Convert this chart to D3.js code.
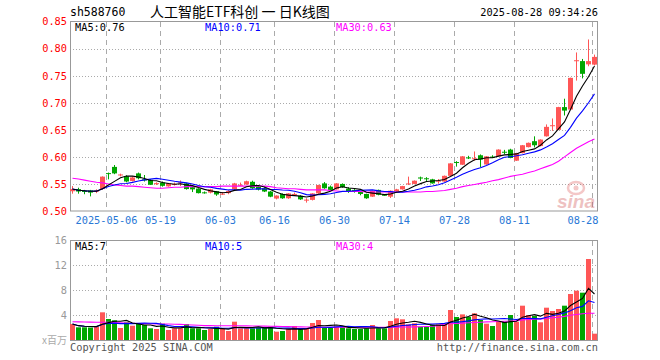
<!DOCTYPE html>
<html>
<head>
<meta charset="utf-8">
<script src="https://cdn.jsdelivr.net/npm/d3@7/dist/d3.min.js"></script>
<style>
  body { margin: 0; background: #fff; }
  svg { display: block; }
  text { font-family: "DejaVu Sans Mono", monospace; }
</style>
</head>
<body>
<svg width="660" height="360"></svg>
<script>
// date ticks (candle index -> label)
const tickIdx = [6, 15, 25, 34, 44, 54, 64, 74, 87];
const tickLabels = ["2025-05-06", "05-19", "06-03", "06-16", "06-30", "07-14", "07-28", "08-11", "08-28"];

// daily candles, 2025-04-23 .. 2025-08-28
const opens = [0.5365,0.5405,0.5370,0.5380,0.5365,0.5405,0.5700,0.5815,0.5665,0.5640,
  0.5555,0.5695,0.5585,0.5575,0.5510,0.5525,0.5455,0.5490,0.5525,0.5510,
  0.5440,0.5415,0.5345,0.5340,0.5365,0.5310,0.5330,0.5400,0.5475,0.5490,
  0.5540,0.5450,0.5420,0.5360,0.5230,0.5315,0.5235,0.5300,0.5280,0.5205,
  0.5205,0.5325,0.5510,0.5450,0.5400,0.5500,0.5415,0.5390,0.5360,0.5315,
  0.5265,0.5390,0.5300,0.5265,0.5360,0.5400,0.5500,0.5500,0.5620,0.5605,
  0.5585,0.5550,0.5545,0.5650,0.5905,0.5855,0.5990,0.5960,0.6030,0.5860,
  0.6005,0.6010,0.6095,0.6135,0.5930,0.6070,0.6180,0.6290,0.6200,0.6380,
  0.6580,0.6500,0.6920,0.6875,0.7768,0.7770,0.7710,0.7705];
const closes = [0.5405,0.5360,0.5355,0.5340,0.5375,0.5635,0.5690,0.5695,0.5675,0.5545,
  0.5620,0.5605,0.5565,0.5485,0.5515,0.5465,0.5510,0.5500,0.5530,0.5405,
  0.5400,0.5330,0.5335,0.5400,0.5305,0.5320,0.5370,0.5510,0.5485,0.5550,
  0.5420,0.5395,0.5360,0.5265,0.5285,0.5235,0.5325,0.5315,0.5215,0.5210,
  0.5325,0.5480,0.5420,0.5390,0.5510,0.5440,0.5360,0.5375,0.5315,0.5235,
  0.5370,0.5300,0.5295,0.5375,0.5400,0.5460,0.5510,0.5560,0.5600,0.5595,
  0.5510,0.5560,0.5650,0.5880,0.5895,0.6010,0.5980,0.5975,0.5950,0.6010,
  0.6000,0.6135,0.6090,0.5980,0.6070,0.6215,0.6260,0.6215,0.6320,0.6555,
  0.6585,0.6920,0.6855,0.7460,0.7786,0.7535,0.7770,0.7848];
const highs = [0.5460,0.5430,0.5390,0.5390,0.5400,0.5640,0.5710,0.5850,0.5690,0.5660,
  0.5640,0.5710,0.5665,0.5590,0.5530,0.5545,0.5520,0.5525,0.5565,0.5520,
  0.5465,0.5420,0.5360,0.5410,0.5370,0.5350,0.5385,0.5520,0.5525,0.5560,
  0.5560,0.5470,0.5440,0.5370,0.5290,0.5325,0.5330,0.5340,0.5290,0.5235,
  0.5330,0.5485,0.5535,0.5470,0.5515,0.5510,0.5440,0.5405,0.5365,0.5320,
  0.5375,0.5395,0.5315,0.5380,0.5410,0.5465,0.5635,0.5565,0.5635,0.5625,
  0.5595,0.5590,0.5655,0.5885,0.5920,0.6015,0.6020,0.6100,0.6045,0.6015,
  0.6030,0.6140,0.6130,0.6150,0.6075,0.6220,0.6265,0.6380,0.6325,0.6600,
  0.6710,0.6925,0.7075,0.7465,0.7930,0.7810,0.8170,0.7890];
const lows = [0.5320,0.5320,0.5310,0.5270,0.5330,0.5390,0.5585,0.5680,0.5640,0.5530,
  0.5545,0.5585,0.5545,0.5480,0.5480,0.5450,0.5450,0.5470,0.5460,0.5395,
  0.5350,0.5325,0.5320,0.5325,0.5280,0.5295,0.5310,0.5390,0.5460,0.5485,
  0.5410,0.5380,0.5350,0.5255,0.5215,0.5225,0.5225,0.5290,0.5205,0.5155,
  0.5195,0.5320,0.5410,0.5380,0.5395,0.5430,0.5335,0.5340,0.5290,0.5225,
  0.5260,0.5290,0.5285,0.5240,0.5350,0.5395,0.5480,0.5495,0.5555,0.5555,
  0.5505,0.5505,0.5540,0.5645,0.5820,0.5850,0.5960,0.5930,0.5810,0.5855,
  0.5980,0.6005,0.6050,0.5975,0.5925,0.6065,0.6175,0.6175,0.6195,0.6375,
  0.6480,0.6495,0.6765,0.6870,0.7410,0.7450,0.7675,0.7690];
// volume, x 1,000,000
const volumes = [2.56,2.03,2.03,2.00,2.10,4.43,3.36,3.15,1.92,2.83,
  2.29,2.56,2.40,1.87,1.76,2.61,1.60,1.87,1.87,2.56,
  1.87,1.87,1.60,1.76,2.13,1.76,1.44,2.93,1.87,1.87,
  1.87,2.03,2.03,2.13,1.33,1.44,1.76,2.24,1.71,1.76,
  2.72,3.20,2.00,2.00,2.13,2.13,1.87,1.76,1.76,1.87,
  2.40,1.87,1.87,3.04,3.47,3.31,2.50,2.67,2.13,2.13,
  2.40,2.50,2.50,4.80,3.68,4.10,3.68,4.27,3.20,2.61,
  2.24,2.93,2.93,4.00,2.93,5.49,4.00,3.84,2.83,5.17,
  4.64,4.96,5.49,7.36,7.89,7.57,12.96,1.01];
// 30-day averages as drawn (they reach back before the window)
const ma30 = [0.5605,0.559,0.557,0.555,0.553,0.552,0.550,0.548,0.547,0.546,
  0.546,0.545,0.544,0.543,0.542,0.542,0.543,0.544,0.544,0.545,
  0.545,0.545,0.545,0.545,0.545,0.546,0.546,0.546,0.546,0.546,
  0.546,0.546,0.546,0.545,0.543,0.542,0.541,0.541,0.540,0.539,
  0.539,0.539,0.539,0.538,0.537,0.536,0.536,0.536,0.536,0.535,
  0.535,0.535,0.535,0.535,0.535,0.535,0.535,0.535,0.535,0.536,
  0.536,0.537,0.538,0.540,0.542,0.545,0.547,0.549,0.551,0.553,
  0.556,0.558,0.561,0.564,0.566,0.568,0.571,0.574,0.578,0.582,
  0.586,0.592,0.600,0.608,0.616,0.622,0.628,0.633];
const volMa30 = [2.93,2.90,2.88,2.86,2.85,2.85,2.83,2.80,2.75,2.70,
  2.67,2.65,2.62,2.60,2.58,2.56,2.55,2.53,2.50,2.45,
  2.40,2.35,2.30,2.30,2.29,2.28,2.28,2.27,2.27,2.26,
  2.25,2.24,2.22,2.20,2.18,2.16,2.14,2.12,2.10,2.08,
  2.06,2.05,2.04,2.03,2.03,2.03,2.03,2.03,2.03,2.03,
  2.03,2.03,2.04,2.05,2.06,2.07,2.08,2.10,2.12,2.15,
  2.20,2.30,2.55,2.60,2.64,2.70,2.75,2.80,2.85,2.90,
  2.92,2.95,3.00,3.05,3.10,3.20,3.28,3.34,3.38,3.45,
  3.55,3.65,3.78,3.95,4.08,4.20,4.27,4.27];

const priceTicks = [0.50, 0.55, 0.60, 0.65, 0.70, 0.75, 0.80, 0.85];
const volTicks = [4, 8, 12, 16];

const RED = "#ff5656", GREEN = "#00a600";
const L = 70, R = 597;

function movAvg(arr, n) {
  return arr.map((d, i) => {
    const s = arr.slice(Math.max(0, i - n + 1), i + 1);
    return d3.mean(s);
  });
}
const ma5 = movAvg(closes, 5), ma10 = movAvg(closes, 10);
const vma5 = movAvg(volumes, 5), vma10 = movAvg(volumes, 10);

const idx = d3.range(closes.length);
const x = d3.scaleLinear().domain([0, closes.length - 1]).range([72, 594]);
const y = d3.scaleLinear().domain([0.5, 0.85]).range([211, 21.6]);
const yv = d3.scaleLinear().domain([0, 16]).range([340, 240]);

const svg = d3.select("svg");
svg.append("rect").attr("width", 660).attr("height", 360).attr("fill", "#fff");

// header
svg.append("text").attr("x", 70).attr("y", 16).attr("font-size", 11.5).attr("fill", "#000").text("sh588760");
svg.append("text").attr("x", 150).attr("y", 17).attr("font-size", 14)
  .style("font-family", "'Noto Sans CJK SC', sans-serif").attr("fill", "#000")
  .text("人工智能ETF科创 一 日K线图");
svg.append("text").attr("x", 598).attr("y", 16).attr("font-size", 10.3).attr("text-anchor", "end")
  .attr("fill", "#000").text("2025-08-28 09:34:26");

// grids
function hGrid(ticks, sc) {
  svg.append("g").selectAll("line").data(ticks).join("line")
    .attr("x1", L).attr("x2", R)
    .attr("y1", d => Math.round(sc(d)) + 0.5).attr("y2", d => Math.round(sc(d)) + 0.5)
    .attr("stroke", "#aaa").attr("stroke-dasharray", "1,2");
}
hGrid(priceTicks.slice(1, -1), y);
hGrid(volTicks.slice(0, -1), yv);

function vGrid(y1, y2) {
  svg.append("g").selectAll("line").data(tickIdx).join("line")
    .attr("x1", d => x(d) - 1.5).attr("x2", d => x(d) - 1.5)
    .attr("y1", y1).attr("y2", y2)
    .attr("stroke", "#aaa").attr("stroke-dasharray", "5,4");
}
vGrid(22, 211);
vGrid(241, 340);

// frames
svg.append("rect").attr("x", L + 0.5).attr("y", 21.5).attr("width", R - L).attr("height", 189.5)
  .attr("fill", "none").attr("stroke", "#999");
svg.append("rect").attr("x", L + 0.5).attr("y", 240.5).attr("width", R - L).attr("height", 100)
  .attr("fill", "none").attr("stroke", "#999");

// sina watermark
const wm = svg.append("g").attr("opacity", 0.35);
wm.append("ellipse").attr("cx", 576).attr("cy", 188).attr("rx", 8).attr("ry", 6)
  .attr("fill", "none").attr("stroke", "#e06060").attr("stroke-width", 2.5);
wm.append("circle").attr("cx", 576).attr("cy", 188).attr("r", 2.5).attr("fill", "#e06060");
wm.append("text").attr("x", 557).attr("y", 208).attr("font-size", 19).attr("font-weight", "bold")
  .attr("font-style", "italic").style("font-family", "'Liberation Sans', sans-serif")
  .attr("fill", "#d05050").text("sina");

// price axis
const ay = svg.append("g").attr("transform", `translate(${L},0)`)
  .call(d3.axisLeft(y).tickValues(priceTicks).tickFormat(d3.format(".2f")).tickSize(0).tickPadding(3));
ay.select(".domain").remove();
ay.selectAll("text").attr("fill", "#f00").attr("font-size", 10.3).style("font-family", "'DejaVu Sans Mono', monospace");

// volume axis
const av = svg.append("g").attr("transform", `translate(${L},0)`)
  .call(d3.axisLeft(yv).tickValues(volTicks).tickSize(0).tickPadding(3));
av.select(".domain").remove();
av.selectAll("text").attr("fill", "#999").attr("font-size", 10.3).style("font-family", "'DejaVu Sans Mono', monospace");
svg.append("text").attr("x", 67).attr("y", 344).attr("text-anchor", "end").attr("font-size", 10)
  .style("font-family", "'Noto Sans CJK SC', sans-serif").attr("fill", "#aaa").text("x百万");

// date axis
const ax = svg.append("g").attr("transform", "translate(0,211)")
  .call(d3.axisBottom(d3.scaleLinear().domain(x.domain()).range(x.range().map(v => v - 2)))
    .tickValues(tickIdx).tickFormat((d, i) => tickLabels[i]).tickSize(0).tickPadding(6));
ax.select(".domain").remove();
ax.selectAll("text").attr("fill", "#2a78d6").attr("font-size", 10.3).style("font-family", "'DejaVu Sans Mono', monospace");
ax.selectAll(".tick").filter((d, i) => i === tickIdx.length - 1).select("text")
  .attr("text-anchor", "end").attr("dx", R + 1 - (x(tickIdx[tickIdx.length - 1]) - 2));

// candles
const up = i => closes[i] >= opens[i];
const cg = svg.append("g");
cg.selectAll("line").data(idx).join("line")
  .attr("x1", i => x(i) + 0.5).attr("x2", i => x(i) + 0.5)
  .attr("y1", i => y(highs[i])).attr("y2", i => y(lows[i]))
  .attr("stroke", i => up(i) ? RED : GREEN);
cg.selectAll("rect").data(idx).join("rect")
  .attr("x", i => x(i) - 2).attr("width", 5)
  .attr("y", i => y(Math.max(opens[i], closes[i])))
  .attr("height", i => Math.max(1, Math.abs(y(opens[i]) - y(closes[i]))))
  .attr("fill", i => up(i) ? RED : GREEN);

// volume bars
svg.append("g").selectAll("rect").data(idx).join("rect")
  .attr("x", i => x(i) - 2).attr("width", 5)
  .attr("y", i => yv(volumes[i])).attr("height", i => yv(0) - yv(volumes[i]))
  .attr("fill", i => up(i) ? RED : GREEN);

// MA lines
function maLine(vals, sc, color) {
  svg.append("path").datum(vals)
    .attr("d", d3.line().x((d, i) => x(i) + 0.5).y(d => sc(d)))
    .attr("fill", "none").attr("stroke", color).attr("stroke-width", 1.1);
}
maLine(ma30, y, "#ff00ff");
maLine(ma10, y, "#0000ff");
maLine(ma5, y, "#000");
maLine(volMa30, yv, "#ff00ff");
maLine(vma10, yv, "#0000ff");
maLine(vma5, yv, "#000");

// MA legends
function legend(yy, items) {
  svg.append("g").selectAll("text").data(items).join("text")
    .attr("x", d => d[0]).attr("y", yy).attr("font-size", 10.3)
    .attr("fill", d => d[2]).text(d => d[1]);
}
legend(31, [[75, "MA5:0.76", "#000"], [205, "MA10:0.71", "#0000ff"], [336, "MA30:0.63", "#ff00ff"]]);
legend(250, [[75, "MA5:7", "#000"], [205, "MA10:5", "#0000ff"], [336, "MA30:4", "#ff00ff"]]);

// footer
svg.append("text").attr("x", 70).attr("y", 351).attr("font-size", 10.3).attr("fill", "#555")
  .text("Copyright 2025 SINA.COM");
svg.append("text").attr("x", 598).attr("y", 351).attr("font-size", 10.3).attr("fill", "#555")
  .attr("text-anchor", "end").text("http://finance.sina.com.cn");
</script>
</body>
</html>
